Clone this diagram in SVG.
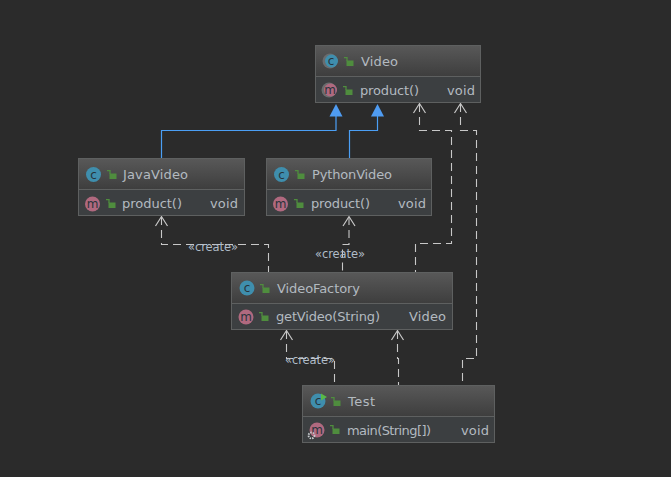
<svg xmlns="http://www.w3.org/2000/svg" xmlns:xlink="http://www.w3.org/1999/xlink" width="671" height="477" viewBox="0 0 671 477">
<style>
text{font-family:"DejaVu Sans",sans-serif;fill:#b3bac0}
.n{font-size:13px}
.lbl{font-size:11.500px;fill:#b0bcc8}
.box{fill:#3c3f41;stroke:#5e6060;stroke-width:1}
.sep{stroke:#5e6060;stroke-width:1}
.dash{fill:none;stroke:#c8c8c8;stroke-width:1.100;stroke-dasharray:8 5}
.open{fill:none;stroke:#c8c8c8;stroke-width:1.200}
.inh{fill:none;stroke:#4b9ff5;stroke-width:1.200}
.tri{fill:#4f9cf2}
.ci{fill:#3f8ead}
.mi{fill:#b0697f}
.halo{fill:#6a6c6e}
.ic{font-size:12px;fill:#27343b;text-anchor:middle}
.lock{fill:#4f8d3e}
.lk{fill:none;stroke:#4f8d3e;stroke-width:1.300}
</style>
<defs>
<linearGradient id="hd" x1="0" y1="0" x2="0" y2="1"><stop offset="0" stop-color="#585858"/><stop offset="1" stop-color="#3e3e3e"/></linearGradient>
<g id="lk"><rect x="2.500" y="3.500" width="7" height="5.500" class="lock"/><path d="M3 4V0.700H0" class="lk"/></g>
</defs>
<rect width="671" height="477" fill="#2b2b2b"/>
<g id="connectors">
<path class="inh" d="M161.500 158V130.500H336V115"/>
<path class="tri" d="M336 104L342.500 116.500H329.500Z"/>
<path class="inh" d="M349.500 158V130.500H377.500V115"/>
<path class="tri" d="M377.500 104L384 116.500H371Z"/>
<path class="dash" d="M419.500 104V130.500H451.500V243.500H415.500V272"/>
<path class="open" d="M413.500 113L419.500 103.500L425.500 113"/>
<path class="dash" d="M460.500 104V130.500H476.500V358.500H462.500V385"/>
<path class="open" d="M454.500 113L460.500 103.500L466.500 113"/>
<path class="dash" d="M161.500 217V244.500H268.500V272"/>
<path class="open" d="M155.500 226L161.500 216.500L167.500 226"/>
<path class="dash" d="M349 217V244.500H342.500V272"/>
<path class="open" d="M343 226L349 216.500L355 226"/>
<path class="dash" d="M286.500 331V358.500H334.500V385"/>
<path class="open" d="M280.500 340L286.500 330.500L292.500 340"/>
<path class="dash" d="M397.500 331V358.500H398.500V385"/>
<path class="open" d="M391.500 340L397.500 330.500L403.500 340"/>
<text class="lbl" x="213" y="251" text-anchor="middle" textLength="50">«create»</text>
<text class="lbl" x="340" y="258" text-anchor="middle" textLength="50">«create»</text>
<text class="lbl" x="310" y="364" text-anchor="middle" textLength="50">«create»</text>
</g>
<g id="Video">
<rect class="box" x="315.500" y="45.500" width="165" height="57"/>
<rect x="316" y="46" width="164" height="30" fill="url(#hd)"/>
<path class="sep" d="M316 76.500H480"/>
<circle class="halo" cx="330" cy="61" r="7.500"/><circle class="ci" cx="331.500" cy="61" r="6.500"/><text class="ic" x="331" y="65">c</text>
<use xlink:href="#lk" x="344" y="57"/>
<text class="n" x="361" y="66" textLength="37">Video</text>
<circle class="halo" cx="329" cy="90" r="7.500"/><circle class="mi" cx="330.500" cy="90" r="6.500"/><text class="ic" x="330" y="94">m</text>
<use xlink:href="#lk" x="343" y="86"/>
<text class="n" x="360" y="95" textLength="59">product()</text>
<text class="n" x="447" y="95" textLength="28">void</text>
</g>
<g id="JavaVideo">
<rect class="box" x="78.500" y="158.500" width="166" height="57"/>
<rect x="79" y="159" width="165" height="30" fill="url(#hd)"/>
<path class="sep" d="M79 189.500H244"/>
<circle class="ci" cx="93.500" cy="174.500" r="7.500"/><text class="ic" x="93.500" y="178.500">c</text>
<use xlink:href="#lk" x="107" y="170"/>
<text class="n" x="123" y="179" textLength="65">JavaVideo</text>
<circle class="mi" cx="92.500" cy="204" r="7.500"/><text class="ic" x="92.500" y="208">m</text>
<use xlink:href="#lk" x="106" y="199"/>
<text class="n" x="122" y="208" textLength="60">product()</text>
<text class="n" x="210" y="208" textLength="28">void</text>
</g>
<g id="PythonVideo">
<rect class="box" x="266.500" y="158.500" width="165" height="57"/>
<rect x="267" y="159" width="164" height="30" fill="url(#hd)"/>
<path class="sep" d="M267 189.500H431"/>
<circle class="ci" cx="281.500" cy="174.500" r="7.500"/><text class="ic" x="281.500" y="178.500">c</text>
<use xlink:href="#lk" x="295" y="170"/>
<text class="n" x="312" y="179" textLength="80">PythonVideo</text>
<circle class="mi" cx="280.500" cy="204" r="7.500"/><text class="ic" x="280.500" y="208">m</text>
<use xlink:href="#lk" x="294" y="199"/>
<text class="n" x="311" y="208" textLength="59">product()</text>
<text class="n" x="398" y="208" textLength="28">void</text>
</g>
<g id="VideoFactory">
<rect class="box" x="231.500" y="272.500" width="221" height="57"/>
<rect x="232" y="273" width="220" height="30" fill="url(#hd)"/>
<path class="sep" d="M232 303.500H452"/>
<circle class="ci" cx="247" cy="288" r="7.500"/><text class="ic" x="247" y="292">c</text>
<use xlink:href="#lk" x="260" y="284"/>
<text class="n" x="277" y="293" textLength="83">VideoFactory</text>
<circle class="mi" cx="246" cy="317" r="7.500"/><text class="ic" x="246" y="321">m</text>
<use xlink:href="#lk" x="259" y="312"/>
<text class="n" x="276" y="321" textLength="104">getVideo(String)</text>
<text class="n" x="409" y="321" textLength="37">Video</text>
</g>
<g id="Test">
<rect class="box" x="302.500" y="385.500" width="192" height="57"/>
<rect x="303" y="386" width="191" height="30" fill="url(#hd)"/>
<path class="sep" d="M303 416.500H494"/>
<circle class="ci" cx="318" cy="401" r="7.500"/><text class="ic" x="318" y="405">c</text>
<path d="M321 393.500L327 397L321 400.500Z" fill="#58b947"/>
<use xlink:href="#lk" x="331" y="397"/>
<text class="n" x="348" y="406" textLength="27">Test</text>
<circle class="mi" cx="317" cy="430" r="7.500"/><text class="ic" x="317" y="434">m</text>
<circle cx="311.500" cy="435.500" r="3" fill="none" stroke="#c9ccd0" stroke-width="1.800" stroke-dasharray="1.500 1"/>
<use xlink:href="#lk" x="330" y="425"/>
<text class="n" x="347" y="435" textLength="84">main(String[])</text>
<text class="n" x="461" y="435" textLength="28">void</text>
</g>
</svg>
